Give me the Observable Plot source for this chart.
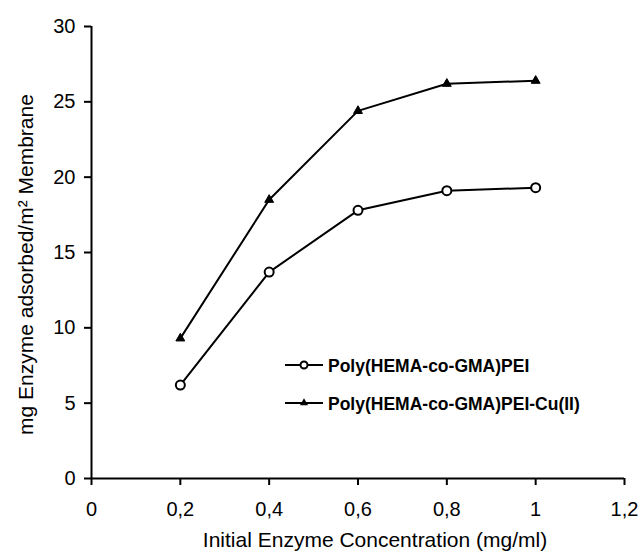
<!DOCTYPE html>
<html>
<head>
<meta charset="utf-8">
<script src="https://cdn.jsdelivr.net/npm/d3@7"></script>
<script src="https://cdn.jsdelivr.net/npm/@observablehq/plot@0.6"></script>
<style>
  html, body { margin: 0; padding: 0; background: #fff; }
  #chart { position: relative; width: 639px; height: 556px; }
</style>
</head>
<body>
<div id="chart"></div>
<script>
// ---- data ----
const xValues = [0.2, 0.4, 0.6, 0.8, 1.0];
const peiValues = [6.2, 13.7, 17.8, 19.1, 19.3];
const cuValues = [9.3, 18.5, 24.4, 26.2, 26.4];
const seriesNames = ["Poly(HEMA-co-GMA)PEI", "Poly(HEMA-co-GMA)PEI-Cu(II)"];
const xTicks = [0, 0.2, 0.4, 0.6, 0.8, 1, 1.2];
const xTickLabels = ["0", "0,2", "0,4", "0,6", "0,8", "1", "1,2"];
const yTicks = [0, 5, 10, 15, 20, 25, 30];
const xTitle = "Initial Enzyme Concentration (mg/ml)";
const yTitle = "mg Enzyme adsorbed/m\u00B2 Membrane";

const pei = xValues.map((x, i) => ({x, y: peiValues[i]}));
const cu = xValues.map((x, i) => ({x, y: cuValues[i]}));

const font = "'Liberation Sans', Arial, Helvetica, sans-serif";

const chart = Plot.plot({
  width: 639,
  height: 556,
  marginLeft: 91,
  marginRight: 15,
  marginTop: 26,
  marginBottom: 78,
  style: {background: "#fff", color: "#000", fontFamily: font, fontSize: "20px", overflow: "visible"},
  x: {domain: [0, 1.2]},
  y: {domain: [0, 30]},
  marks: [
    Plot.axisX(xTicks, {
      tickSize: 7, tickPadding: 16, strokeWidth: 2, label: null,
      tickFormat: d => xTickLabels[xTicks.findIndex(t => Math.abs(t - d) < 1e-9)]
    }),
    Plot.axisY(yTicks, {tickSize: 7, tickPadding: 9, strokeWidth: 2, label: null}),
    Plot.ruleX([0], {strokeWidth: 2}),
    Plot.ruleY([0], {strokeWidth: 2}),
    Plot.line(pei, {x: "x", y: "y", stroke: "#000", strokeWidth: 2}),
    Plot.line(cu, {x: "x", y: "y", stroke: "#000", strokeWidth: 2}),
    Plot.dot(pei, {x: "x", y: "y", r: 4.5, fill: "#fff", stroke: "#000", strokeWidth: 2}),
    Plot.dot(cu, {x: "x", y: "y", r: 3.3, symbol: "triangle", fill: "#000", stroke: "#000", strokeWidth: 1}),
    Plot.text([xTitle], {text: d => d, frameAnchor: "bottom", textAnchor: "middle", dx: 17, dy: 68, fontSize: 21, fill: "#000", ariaLabel: "x-title"}),
    Plot.text([yTitle], {text: d => d, frameAnchor: "left", textAnchor: "middle", rotate: -90, dx: -65, dy: 12, fontSize: 21, fill: "#000", ariaLabel: "y-title"})
  ]
});

document.getElementById("chart").appendChild(chart);

const svg = d3.select(chart);
svg.selectAll('g[aria-label="x-title"] text').attr("letter-spacing", "1.2px");
svg.selectAll('g[aria-label="y-title"] text').attr("letter-spacing", "1.3px");

// legend
const legend = svg.append("g").attr("aria-label", "legend").attr("text-anchor", "start");
const rows = [
  {name: seriesNames[0], cy: 365, marker: "circle"},
  {name: seriesNames[1], cy: 403, marker: "triangle"}
];
rows.forEach(r => {
  legend.append("line").attr("x1", 285).attr("x2", 323).attr("y1", r.cy).attr("y2", r.cy)
    .attr("stroke", "#000").attr("stroke-width", 2);
  if (r.marker === "circle") {
    legend.append("circle").attr("cx", 304).attr("cy", r.cy).attr("r", 3.5)
      .attr("fill", "#fff").attr("stroke", "#000").attr("stroke-width", 2);
  } else {
    legend.append("path").attr("transform", `translate(304,${r.cy})`)
      .attr("d", d3.symbol(d3.symbolTriangle, 28)()).attr("fill", "#000");
  }
  legend.append("text").attr("x", 328).attr("y", r.cy + 6.5)
    .attr("text-anchor", "start")
    .attr("font-family", font).attr("font-weight", "bold").attr("font-size", 17.5)
    .attr("fill", "#000").text(r.name);
});
</script>
</body>
</html>
